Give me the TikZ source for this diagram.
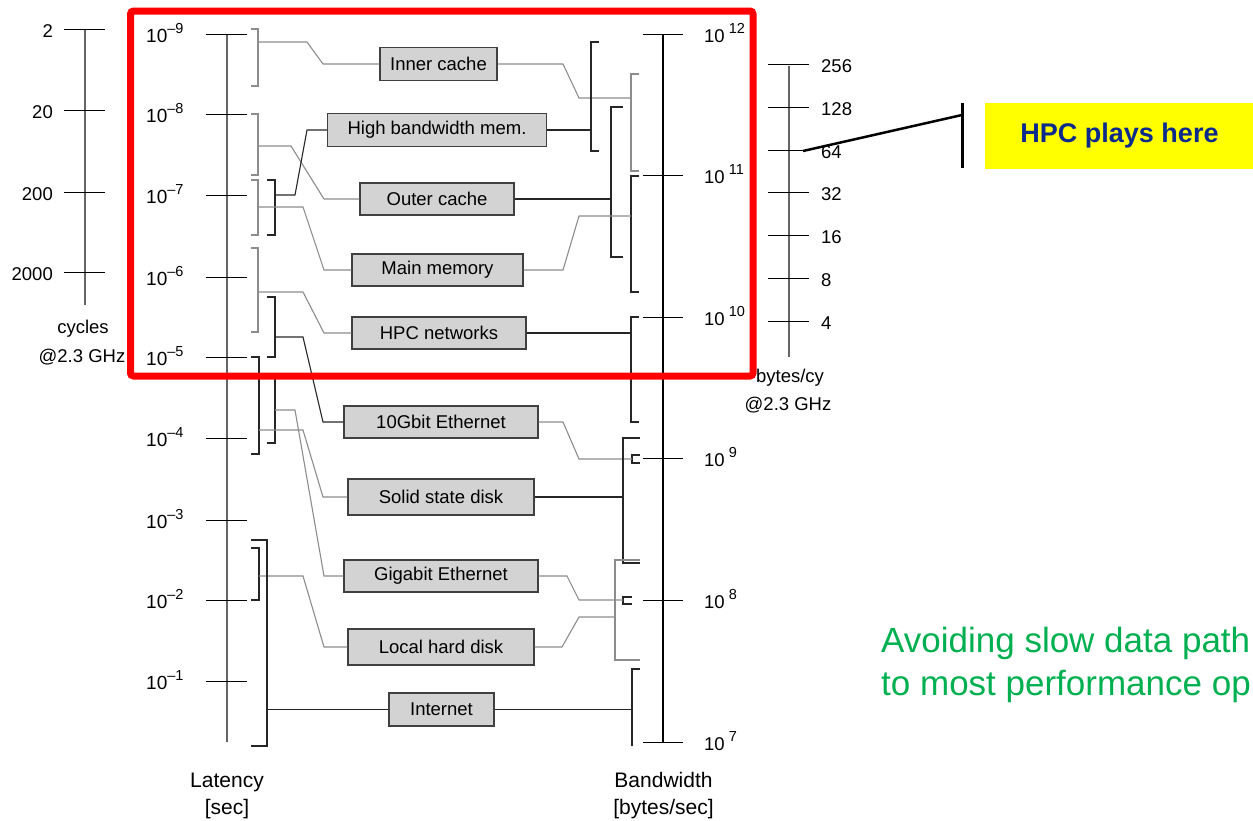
\documentclass[tikz,border=0pt]{standalone}
\usepackage{fontspec}
\setmainfont{Liberation Sans}
\usetikzlibrary{positioning}
\definecolor{boxgray}{HTML}{D3D3D3}
\definecolor{linegray}{HTML}{8C8C8C}
\definecolor{hpcblue}{HTML}{0B2A8C}
\definecolor{hpcyellow}{HTML}{FFFF00}
\definecolor{avoidgreen}{HTML}{00B050}
\newcommand{\expo}[1]{\raisebox{8.5pt}{\fontsize{14.5}{14.5}\selectfont#1}}

\begin{document}
\begin{tikzpicture}[x=1pt,y=-1pt,
lab/.style={inner sep=0pt,font=\fontsize{18.5}{22}\selectfont},
ttl/.style={inner sep=0pt,font=\fontsize{21}{24}\selectfont},
box/.style={draw=black!75,line width=1.3pt,fill=boxgray,minimum height=33pt,inner sep=0pt,font=\fontsize{18.5}{22}\selectfont},
ax/.style={black!60,line width=1.2pt},
tk/.style={black,line width=1pt},
gline/.style={linegray,line width=1.1pt},
dline/.style={black!85,line width=1.1pt},
call/.style={black,line width=2.5pt}]
\useasboundingbox (0,0) rectangle (1253,820);

\node[box,minimum width=117pt] (inner) at (438.5,64) {Inner cache};
\node[box,minimum width=219pt] (hbm) at (437,130) {High bandwidth mem.};
\node[box,minimum width=154pt,minimum height=32pt] (outer) at (437,199) {Outer cache};
\node[box,minimum width=171pt,minimum height=32pt] (mainmem) at (437.5,270) {Main memory};
\node[box,minimum width=174pt,minimum height=32pt] (hpcnet) at (439,333) {HPC networks};
\node[box,minimum width=194pt,minimum height=32pt] (tengbe) at (441,422) {10Gbit Ethernet};
\node[box,minimum width=186pt,minimum height=36pt] (ssd) at (441,497) {Solid state disk};
\node[box,minimum width=194pt,minimum height=32pt] (gbe) at (441,576) {Gigabit Ethernet};
\node[box,minimum width=186pt,minimum height=36pt] (hdd) at (441,647) {Local hard disk};
\node[box,minimum width=105pt] (inet) at (441.5,709.5) {Internet};

\draw[ax] (85,29) -- (85,305);
\foreach \y/\c in {29/2,110/20,192/200,272/2000}{
  \draw[tk] (64,\y) -- (105,\y);
  \node[lab,anchor=base east] (cyc\c) at (53,\y+8.5) {\c};
}
\node[lab,anchor=base] (cycles) at (83,333) {cycles};
\node[lab,anchor=base] (cycghz) at (82,362) {@2.3 GHz};

\draw[ax] (227,34) -- (227,742);
\foreach \y/\i in {34/9,114/8,195/7,277/6,357/5,438/4,520/3,600/2,681/1}{
  \draw[tk] (206,\y) -- (247,\y);
  \node[lab,anchor=base west,font=\fontsize{19}{22}\selectfont] (lat\i) at (146,\y+8) {10\expo{\textendash\i}};
}
\node[ttl,anchor=base] (latency) at (227,787) {Latency};
\node[ttl,anchor=base] (latunit) at (227,814) {[sec]};

\draw[black,line width=1.1pt] (663,34) -- (663,742);
\foreach \y/\e in {34/12,175/11,317/10,458/9,600/8,742/7}{
  \draw[tk] (643,\y) -- (683,\y);
  \node[lab,anchor=base west] (bw\e) at (704,\y+8) {10\kern4pt\expo{\e}};
}
\node[ttl,anchor=base] (bandwidth) at (663.5,787) {Bandwidth};
\node[ttl,anchor=base] (bwunit) at (663.5,814) {[bytes/sec]};

\draw[ax] (789,66) -- (789,357);
\foreach \y/\b in {64/256,107/128,150/64,192/32,235/16,278/8,321/4}{
  \draw[tk] (768,\y) -- (809,\y);
  \node[lab,anchor=base west] (bc\b) at (821,\y+8) {\b};
}
\node[lab,anchor=base] (bytescy) at (790,382) {bytes/cy};
\node[lab,anchor=base] (bcghz) at (788,410) {@2.3 GHz};

\draw[gline] (251,29) -| (258,86) -- (251,86);
\coordinate (l1) at (258,42);
\draw[gline] (l1) -- (307,42) -- (323,64) -- (inner.west);
\draw[gline] (251,114) -| (258,175) -- (251,175);
\coordinate (l2) at (258,146);
\draw[gline] (l2) -- (291,146) -- (324,199) -- (outer.west);
\draw[dline] (267,180) -| (275,235) -- (267,235);
\coordinate (l3) at (275,195);
\draw[dline] (l3) -- (295,195) -- (307,130) -- (hbm.west);
\draw[gline] (251,180) -| (258,235) -- (251,235);
\coordinate (l4) at (258,207);
\draw[gline] (l4) -- (303,207) -- (324,270) -- (mainmem.west);
\draw[gline] (251,248) -| (258,332) -- (251,332);
\coordinate (l5) at (258,292);
\draw[gline] (l5) -- (303,292) -- (324,333) -- (hpcnet.west);
\draw[dline] (267,297) -| (275,357) -- (267,357);
\coordinate (l6) at (275,337);
\draw[dline] (l6) -- (303,337) -- (323,422) -- (tengbe.west);
\draw[dline] (267,375) -| (275,443) -- (267,443);
\coordinate (l7) at (275,410);
\draw[gline] (l7) -- (295,410) -- (324,576) -- (gbe.west);
\draw[dline] (251,357) -| (259,454) -- (251,454);
\coordinate (l8) at (259,430);
\draw[gline] (l8) -- (303,430) -- (323,497) -- (ssd.west);
\draw[dline] (251,548) -| (259,600) -- (251,600);
\coordinate (l9) at (259,576);
\draw[gline] (l9) -- (303,576) -- (324,647) -- (hdd.west);
\draw[dline] (251,540) -| (267,746) -- (251,746);
\coordinate (l10) at (267,709.5);
\draw[dline] (l10) -- (inet.west);

\draw[gline] (639,74) -| (631,171) -- (639,171);
\coordinate (r1) at (631,98);
\draw[gline] (inner.east) -- (563,64) -- (579,98) -- (r1);
\draw[dline] (599,42) -| (591,151) -- (599,151);
\coordinate (r2) at (591,130);
\draw[dline] (hbm.east) -- (r2);
\draw[dline] (623,107) -| (611,257) -- (623,257);
\coordinate (r3) at (611,199);
\draw[dline] (outer.east) -- (r3);
\draw[dline] (639,176) -| (631,292) -- (639,292);
\coordinate (r4) at (631,216);
\draw[gline] (mainmem.east) -- (563,270) -- (579,216) -- (r4);
\draw[dline] (639,317) -| (631,422) -- (639,422);
\coordinate (r5) at (631,333);
\draw[dline] (hpcnet.east) -- (r5);
\draw[dline] (640,455) -| (632,463) -- (640,463);
\coordinate (r6) at (632,459);
\draw[gline] (tengbe.east) -- (563,422) -- (579,459) -- (r6);
\draw[dline] (640,438) -| (623,563) -- (640,563);
\coordinate (r7) at (623,497);
\draw[dline] (ssd.east) -- (r7);
\draw[dline] (632,597) -| (623,604) -- (632,604);
\coordinate (r8) at (623,600);
\draw[gline] (gbe.east) -- (567,576) -- (579,600) -- (r8);
\draw[gline] (640,560) -| (615,660) -- (640,660);
\coordinate (r9) at (615,617);
\draw[gline] (hdd.east) -- (562,647) -- (579,617) -- (r9);
\draw[dline] (640,669) -| (632,746);
\coordinate (r10) at (632,709.5);
\draw[dline] (inet.east) -- (r10);

\begin{scope}
\clip (0,0) rectangle (1253,820);
\node[fill=hpcyellow,minimum width=269pt,minimum height=66pt,inner sep=0pt,text=hpcblue,font=\fontsize{27}{30}\selectfont\bfseries] (hpcplays) at (1119.5,136) {HPC plays here};
\node[inner sep=0pt,anchor=base west,text=avoidgreen,font=\fontsize{35}{40}\selectfont] (avoid1) at (881,652) {Avoiding slow data path};
\node[inner sep=0pt,anchor=base west,text=avoidgreen,font=\fontsize{35}{40}\selectfont] (avoid2) at (881,695) {to most performance op};
\end{scope}
\coordinate (bartop) at (962,103);
\coordinate (barbot) at (962,168);
\coordinate (barmid) at (962,115);
\coordinate (at64) at (803,151);
\draw[call,line width=3pt] (bartop) -- (barbot);
\draw[call] (at64) -- (barmid);

\draw[red,line width=7pt,rounded corners=3pt] (130.5,11) rectangle (753,376);
\end{tikzpicture}
\end{document}
